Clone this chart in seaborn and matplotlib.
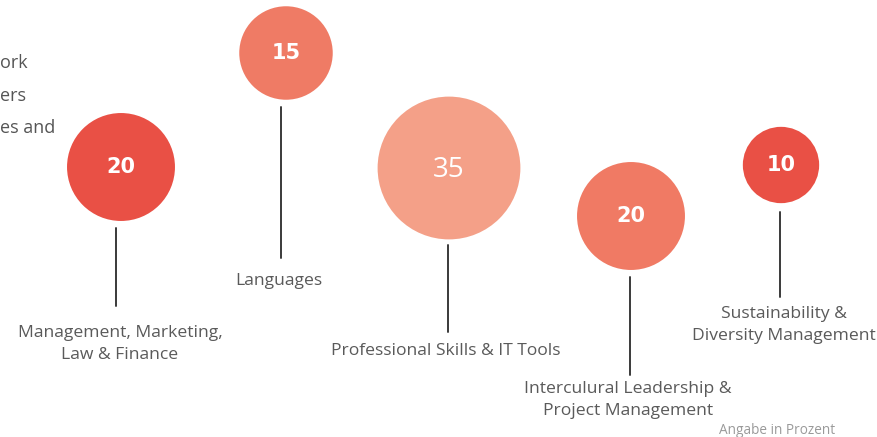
import matplotlib.pyplot as plt
import seaborn as sns
import pandas as pd

# Daten: Kategorien und Anteile in Prozent
kategorien = [
    "Management, Marketing,\nLaw & Finance",
    "Languages",
    "Professional Skills & IT Tools",
    "Interculural Leadership &\nProject Management",
    "Sustainability &\nDiversity Management",
]
werte = [20, 15, 35, 20, 10]
farben = ["#E95045", "#EF7B65", "#F4A088", "#F07A64", "#E95045"]

# Layout (Pixelkoordinaten im 878x437-Bild)
pos_x = [121, 286, 449, 631, 781]
pos_y = [167, 53, 168, 216, 165]
stiel_x = [116, 281, 448, 630, 780]
stiel_oben = [228, 107, 245, 277, 212]
stiel_unten = [306, 258, 332, 375, 297]
label_x = [120, 279, 446, 628, 784]
label_y = [344, 281, 351, 400, 325]

sns.set_theme(style="white")
plt.rcParams['font.family'] = ['Open Sans', 'DejaVu Sans']

df = pd.DataFrame({'kategorie': kategorien, 'wert': werte, 'x': pos_x, 'y': pos_y})

fig = plt.figure(figsize=(8.78, 4.37), dpi=100)
ax = fig.add_axes([0, 0, 1, 1])

sns.scatterplot(
    data=df, x='x', y='y',
    hue='kategorie', palette=dict(zip(kategorien, farben)),
    size='wert', sizes=(0, 302 * 35), size_norm=(0, 35),
    linewidth=0, legend=False, ax=ax, zorder=2
)

ax.set_xlim(0, 878)
ax.set_ylim(437, 0)
ax.axis('off')

for i, w in enumerate(werte):
    if w == max(werte):
        ax.text(pos_x[i], pos_y[i] + 2, str(w), ha='center', va='center',
                color='white', fontsize=20, family='Open Sans', zorder=3)
    else:
        ax.text(pos_x[i], pos_y[i], str(w), ha='center', va='center',
                color='white', fontsize=15, fontweight='bold', family='DejaVu Sans', zorder=3)
    ax.plot([stiel_x[i], stiel_x[i]], [stiel_oben[i], stiel_unten[i]],
            color='#3a3a3a', linewidth=1.4, zorder=1)
    ax.text(label_x[i], label_y[i], kategorien[i], ha='center', va='center',
            color='#5a5a5a', fontsize=12.6, linespacing=1.42)

# abgeschnittener Einleitungstext links
for txt, yy in zip(["ork", "ers", "es and"], [63, 96, 128]):
    ax.text(0, yy, txt, ha='left', va='center', color='#555555', fontsize=13)

ax.text(835, 430, "Angabe in Prozent", ha='right', va='center',
        color='#9a9a9a', fontsize=9.8)

plt.savefig('out.png', dpi=100)
